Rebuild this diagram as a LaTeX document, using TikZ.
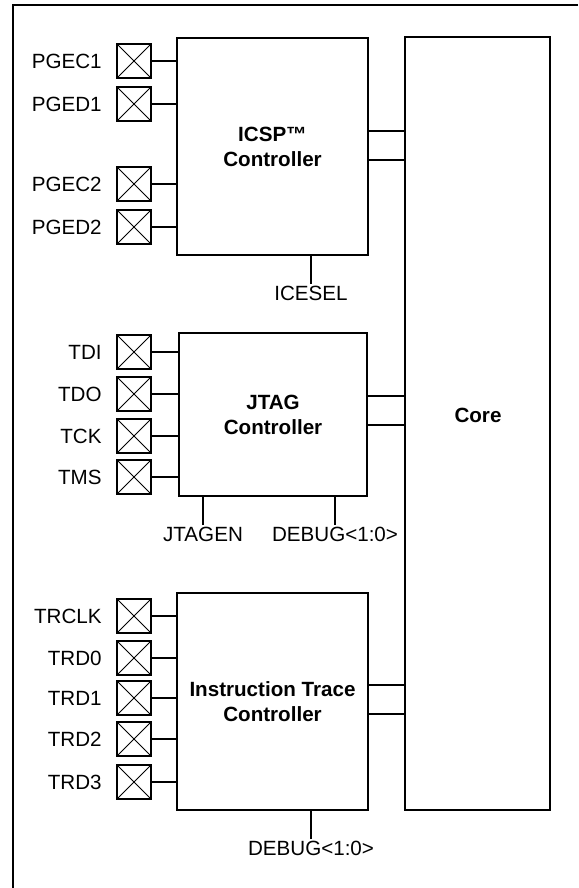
\documentclass[tikz,border=0pt]{standalone}
\usepackage{fontspec}
\setmainfont{Liberation Sans}
\usetikzlibrary{positioning}

\tikzset{
  blk/.style={draw, line width=1.3pt, inner sep=0pt, align=center,
    font=\fontsize{10.3}{12.5}\selectfont\bfseries},
  pad/.style={draw, line width=1pt, minimum size=17pt, inner sep=0pt,
    path picture={\draw[line width=0.5pt]
      (path picture bounding box.north west) -- (path picture bounding box.south east)
      (path picture bounding box.south west) -- (path picture bounding box.north east);}},
  pinlbl/.style={inner sep=1pt},
  sig/.style={inner sep=1pt, anchor=north},
  wire/.style={line width=1pt}
}

\begin{document}
\begin{tikzpicture}[x=0.5pt, y=-0.5pt, font=\fontsize{10.3}{12.5}\selectfont]
    \useasboundingbox (0,0) rectangle (578,888);
    % frame
    \draw[line width=1.2pt] (578,5) -- (13,5) -- (13,888);

    % blocks
    \node[blk, minimum width=95.5pt, minimum height=108.5pt] (icsp) at (272.5,146.5) {ICSP™\\Controller};
    \node[blk, minimum width=94pt, minimum height=81.5pt] (jtag) at (273,414.5) {JTAG\\Controller};
    \node[blk, minimum width=95.5pt, minimum height=108.5pt] (trace) at (272.5,701.5) {Instruction Trace\\Controller};
    \node[blk, minimum width=72.5pt, minimum height=386.5pt] (core) at (477.5,423.5) {};
    \node[font=\fontsize{10.3}{12.5}\selectfont\bfseries] (corelbl) at (478,415) {Core};

    % pins
    \foreach \n/\y/\t in {pgec1/61/PGEC1, pged1/104/PGED1, pgec2/184/PGEC2, pged2/227/PGED2}{
      \node[pad] (\n) at (134,\y) {};
      \node[pinlbl, left=6pt of \n] (\n-lbl) {\t};
      \draw[wire] (\n.east) -- (\n.east -| icsp.west);
    }
    \foreach \n/\y/\t in {tdi/352/TDI, tdo/394/TDO, tck/436/TCK, tms/477/TMS}{
      \node[pad] (\n) at (134,\y) {};
      \node[pinlbl, left=6pt of \n] (\n-lbl) {\t};
      \draw[wire] (\n.east) -- (\n.east -| jtag.west);
    }
    \foreach \n/\y/\t in {trclk/616/TRCLK, trd0/658/TRD0, trd1/698/TRD1, trd2/739/TRD2, trd3/782/TRD3}{
      \node[pad] (\n) at (134,\y) {};
      \node[pinlbl, left=6pt of \n] (\n-lbl) {\t};
      \draw[wire] (\n.east) -- (\n.east -| trace.west);
    }

    % links to core
    \foreach \b/\s in {icsp/7.75pt, icsp/-6.75pt, jtag/9.25pt, jtag/-5.25pt, trace/8.25pt, trace/-6.25pt}
      \draw[wire] ([yshift=\s]\b.east) -- ([yshift=\s]\b.east -| core.west);

    % enable / debug signals
    \node[sig] (icesel) at (311,284) {ICESEL};
    \node[sig] (jtagen) at (203,525) {JTAGEN};
    \node[sig] (jdebug) at (335,525) {DEBUG<1:0>};
    \node[sig] (tdebug) at (311,839) {DEBUG<1:0>};
    \draw[wire] (icesel.north) -- (icesel.north |- icsp.south);
    \draw[wire] (jtagen.north) -- (jtagen.north |- jtag.south);
    \draw[wire] (jdebug.north) -- (jdebug.north |- jtag.south);
    \draw[wire] (tdebug.north) -- (tdebug.north |- trace.south);
\end{tikzpicture}
\end{document}
